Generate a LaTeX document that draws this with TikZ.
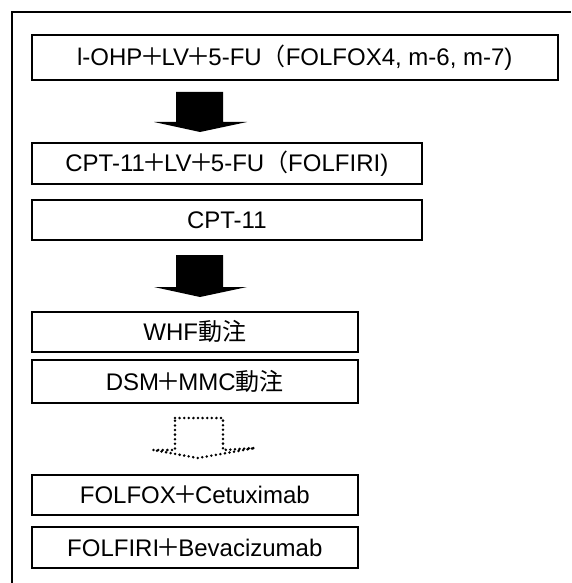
\documentclass[tikz,border=0pt]{standalone}
\usepackage{fontspec}
\setmainfont{Liberation Sans}
\newfontfamily\cjk{Noto Sans CJK JP}
\newcommand{\pls}{\makebox[0.8em]{\cjk ＋}}
\tikzset{
	regimen/.style={draw, line width=1.6pt, inner sep=0pt, anchor=north west, font=\fontsize{24}{27}\selectfont},
	blockarrow/.style={fill=black},
	dotarrow/.style={line width=2.8pt, line cap=round, dash pattern=on 0pt off 4.6pt}
}
\begin{document}
\begin{tikzpicture}[x=1pt, y=-1pt]
	\useasboundingbox (0, 0) rectangle (571, 583);
	\draw[line width=1.3pt] (12, 583) -- (12, 12) -- (571, 12);
	% first line
	\node[regimen, minimum width=526pt, minimum height=45pt] (folfox) at (31, 34) {l-OHP\pls LV\pls 5-FU{\cjk （}FOLFOX4, m-6, m-7)};
	\fill[blockarrow] (176, 92) -- (223, 92) -- (223, 122) -- (247, 122) -- (200, 132) -- (154, 122) -- (176, 122) -- cycle;
	% second line
	\node[regimen, minimum width=390pt, minimum height=41pt] (folfiri) at (31, 142) {CPT-11\pls LV\pls 5-FU{\cjk （}FOLFIRI)};
	\node[regimen, minimum width=390pt, minimum height=40pt] (cpt) at (31, 199) {CPT-11};
	\fill[blockarrow] (176, 255) -- (223, 255) -- (223, 287) -- (247, 287) -- (200, 297) -- (154, 287) -- (176, 287) -- cycle;
	% hepatic arterial infusion
	\node[regimen, minimum width=326pt, minimum height=40pt] (whf) at (31, 311) {WHF{\cjk 動注}};
	\node[regimen, minimum width=326pt, minimum height=43pt] (dsm) at (31, 359) {DSM\pls MMC{\cjk 動注}};
	\draw[dotarrow] (175, 418) -- (223, 418) -- (223, 450) -- (255, 448) -- (198, 458) -- (153, 450) -- (175, 450) -- cycle;
	% molecular targeted agents
	\node[regimen, minimum width=326pt, minimum height=40pt] (cetux) at (31, 474) {FOLFOX\pls Cetuximab};
	\node[regimen, minimum width=326pt, minimum height=41pt] (bev) at (31, 526) {FOLFIRI\pls Bevacizumab};
\end{tikzpicture}
\end{document}
